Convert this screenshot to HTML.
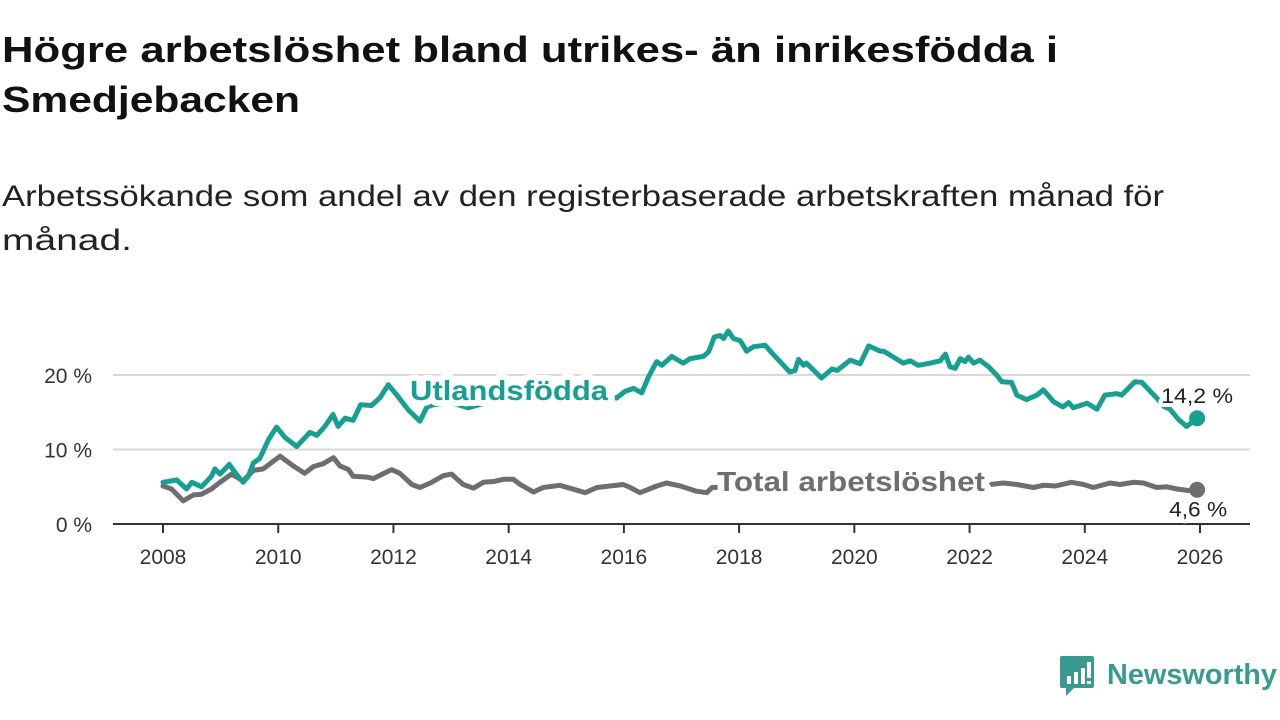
<!DOCTYPE html>
<html><head><meta charset="utf-8"><style>
html,body{margin:0;padding:0;background:#fff;width:1280px;height:720px;overflow:hidden}
svg{display:block}
text{font-family:"Liberation Sans",sans-serif}
</style></head><body>
<svg id="chart" width="1280" height="720" viewBox="0 0 1280 720">
<text x="2" y="62" font-size="36" font-weight="bold" fill="#111" textLength="1056" lengthAdjust="spacingAndGlyphs">Högre arbetslöshet bland utrikes- än inrikesfödda i</text>
<text x="2" y="112" font-size="36" font-weight="bold" fill="#111" textLength="298" lengthAdjust="spacingAndGlyphs">Smedjebacken</text>
<text x="2" y="206" font-size="30" fill="#222" textLength="1162" lengthAdjust="spacingAndGlyphs">Arbetssökande som andel av den registerbaserade arbetskraften månad för</text>
<text x="2" y="250" font-size="30" fill="#222" textLength="130" lengthAdjust="spacingAndGlyphs">månad.</text>
<g id="grid"></g>
<g id="axes"></g>
<g id="series"></g>
<g id="labels"></g>
<g>
<path d="M1062 656 h30 a2 2 0 0 1 2 2 v28 a2 2 0 0 1 -2 2 h-18 l-8 8 v-8 h-4 a2 2 0 0 1 -2 -2 v-28 a2 2 0 0 1 2 -2z" fill="#3a9a90"/>
<rect x="1067" y="676" width="4" height="8" fill="#fff"/><rect x="1074" y="672" width="4" height="12" fill="#fff"/><rect x="1081" y="668" width="4" height="16" fill="#fff"/><rect x="1087" y="662" width="4" height="16" fill="#fff"/><rect x="1087" y="681" width="4" height="3" fill="#fff"/>
<text x="1107" y="684" font-size="29" font-weight="bold" fill="#3a9a90" textLength="170" lengthAdjust="spacingAndGlyphs">Newsworthy</text>
</g>
</svg>
<script>
const yTicks = [0, 10, 20];
const yTickLabels = ["0 %", "10 %", "20 %"];
const xTicks = [2008, 2010, 2012, 2014, 2016, 2018, 2020, 2022, 2024, 2026];
const utlDates = [2008.0,2008.24,2008.41,2008.5,2008.67,2008.84,2008.9,2008.99,2009.15,2009.27,2009.39,2009.48,2009.57,2009.68,2009.83,2009.97,2010.12,2010.32,2010.44,2010.55,2010.67,2010.81,2010.95,2011.04,2011.16,2011.3,2011.43,2011.62,2011.77,2011.91,2012.06,2012.26,2012.46,2012.58,2012.69,2013.0,2013.3,2013.7,2014.0,2014.3,2014.7,2015.0,2015.3,2015.6,2015.87,2016.02,2016.17,2016.31,2016.43,2016.57,2016.66,2016.83,2017.03,2017.15,2017.38,2017.47,2017.57,2017.67,2017.73,2017.81,2017.9,2018.02,2018.13,2018.25,2018.45,2018.6,2018.77,2018.88,2018.97,2019.03,2019.12,2019.17,2019.43,2019.61,2019.7,2019.93,2020.1,2020.25,2020.45,2020.51,2020.68,2020.85,2020.97,2021.11,2021.32,2021.49,2021.58,2021.66,2021.75,2021.84,2021.92,2021.98,2022.07,2022.18,2022.33,2022.47,2022.56,2022.73,2022.82,2022.99,2023.17,2023.28,2023.46,2023.62,2023.72,2023.8,2024.04,2024.21,2024.35,2024.56,2024.64,2024.87,2024.99,2025.25,2025.37,2025.48,2025.63,2025.77,2025.95];
const utlValues = [5.6,5.9,4.7,5.6,5.0,6.4,7.4,6.7,8.0,6.7,5.6,6.4,8.2,8.8,11.3,13.0,11.6,10.4,11.4,12.3,11.9,13.1,14.7,13.1,14.2,13.9,16.0,15.9,17.0,18.7,17.3,15.3,13.8,15.7,16.0,16.3,15.6,16.5,17.0,16.3,17.0,17.2,16.8,17.3,16.9,17.8,18.2,17.6,19.8,21.8,21.3,22.5,21.6,22.2,22.5,23.1,25.1,25.3,24.9,25.9,24.9,24.6,23.2,23.8,24.0,22.7,21.3,20.4,20.6,22.1,21.3,21.6,19.6,20.8,20.6,22.0,21.5,23.9,23.2,23.2,22.4,21.6,21.9,21.3,21.6,21.9,22.8,21.1,20.9,22.2,21.8,22.4,21.6,22.0,21.1,20.0,19.1,19.0,17.3,16.7,17.3,18.0,16.4,15.7,16.3,15.6,16.2,15.4,17.3,17.5,17.3,19.1,19.0,16.9,15.8,15.4,14.0,13.1,14.2];
const totDates = [2008.0,2008.15,2008.35,2008.53,2008.67,2008.84,2008.99,2009.19,2009.39,2009.57,2009.74,2010.03,2010.26,2010.46,2010.61,2010.78,2010.96,2011.07,2011.22,2011.3,2011.54,2011.65,2011.97,2012.11,2012.32,2012.46,2012.64,2012.87,2013.01,2013.21,2013.39,2013.56,2013.74,2013.91,2014.08,2014.2,2014.43,2014.6,2014.89,2015.33,2015.53,2015.99,2016.11,2016.28,2016.57,2016.74,2016.98,2017.26,2017.44,2017.53,2018.0,2018.5,2019.0,2019.5,2020.0,2020.5,2021.0,2021.5,2022.0,2022.36,2022.59,2022.82,2023.11,2023.28,2023.49,2023.77,2023.98,2024.15,2024.44,2024.61,2024.85,2025.02,2025.25,2025.42,2025.6,2025.8,2025.95];
const totValues = [5.1,4.7,3.1,3.9,4.0,4.7,5.6,6.7,5.8,7.2,7.4,9.1,7.8,6.8,7.7,8.1,8.9,7.8,7.3,6.4,6.3,6.1,7.3,6.8,5.3,4.9,5.5,6.5,6.7,5.3,4.8,5.6,5.7,6.0,6.0,5.3,4.3,4.9,5.2,4.2,4.9,5.3,4.9,4.2,5.1,5.5,5.1,4.4,4.2,4.9,5.0,4.7,4.5,4.8,5.6,6.0,5.8,5.3,5.0,5.3,5.5,5.3,4.9,5.2,5.1,5.6,5.3,4.9,5.5,5.3,5.6,5.5,4.9,5.0,4.7,4.5,4.6];
const endLabels = ["14,2 %", "4,6 %"];

const NS = "http://www.w3.org/2000/svg";
const X0 = 163, XS = (1200 - 163) / 18, Y0 = 524, YS = 7.45;
function xPos(d){ return X0 + (d - 2008) * XS; }
function yPos(v){ return Y0 - v * YS; }
function mk(tag, attrs, parent){ const e = document.createElementNS(NS, tag); for (const k in attrs) e.setAttribute(k, attrs[k]); parent.appendChild(e); return e; }

const grid = document.getElementById('grid');
yTicks.forEach((t, i) => {
  if (t > 0) {
    const l = mk('line', {x1:113, x2:1250, y1:yPos(t), y2:yPos(t), stroke:'#d9d9d9', 'stroke-width':2}, grid);
    
    
  }
  const tx = mk('text', {x:92, y:yPos(t)+8, 'font-size':21, fill:'#333', 'text-anchor':'end'}, grid);
  tx.textContent = yTickLabels[i];
  
  
});
const axes = document.getElementById('axes');
const base = mk('line', {x1:113, x2:1250, y1:Y0, y2:Y0, stroke:'#333', 'stroke-width':2}, axes);


xTicks.forEach(t => {
  mk('line', {x1:xPos(t), x2:xPos(t), y1:Y0, y2:Y0+9, stroke:'#333', 'stroke-width':2}, axes);
  const tx = mk('text', {x:xPos(t), y:Y0+40, 'font-size':21, fill:'#333', 'text-anchor':'middle'}, axes);
  tx.textContent = t;
  
  
});

const series = document.getElementById('series');
function drawLine(dates, vals, color, name){
  const pts = dates.map((d, i) => xPos(d).toFixed(1) + ',' + yPos(vals[i]).toFixed(1)).join(' ');
  const pl = mk('polyline', {points:pts, fill:'none', stroke:color, 'stroke-width':5, 'stroke-linejoin':'round', 'stroke-linecap':'round'}, series);
  
  
  const n = dates.length - 1;
  const c = mk('circle', {cx:xPos(dates[n]), cy:yPos(vals[n]), r:8, fill:color}, series);
  
  
}
drawLine(totDates, totValues, '#6e6d72', 'total');
drawLine(utlDates, utlValues, '#17a092', 'utlandsfodda');

const labels = document.getElementById('labels');
function lab(x, y, txt, color, size, bold, name, len, sw){
  const a = {x:x, y:y, 'font-size':size, fill:color, stroke:'#fff', 'stroke-width':sw, 'paint-order':'stroke', 'stroke-linejoin':'round'};
  if (bold) a['font-weight'] = 'bold';
  if (len) { a.textLength = len; a.lengthAdjust = 'spacingAndGlyphs'; }
  const t = mk('text', a, labels);
  t.textContent = txt;
  
  
}
lab(410, 400, 'Utlandsfödda', '#17a092', 28, true, 'series-label-utlandsfodda', 198, 12);
lab(717, 491, 'Total arbetslöshet', '#6e6d72', 28, true, 'series-label-total', 268, 12);
const nU = utlDates.length - 1, nT = totDates.length - 1;
lab(xPos(utlDates[nU]) - 36, yPos(utlValues[nU]) - 15, endLabels[0], '#222', 21, false, 'end-value-utlandsfodda', 72, 8);
lab(xPos(totDates[nT]) - 28, yPos(totValues[nT]) + 27, endLabels[1], '#222', 21, false, 'end-value-total', 58, 8);
</script>
</body></html>
